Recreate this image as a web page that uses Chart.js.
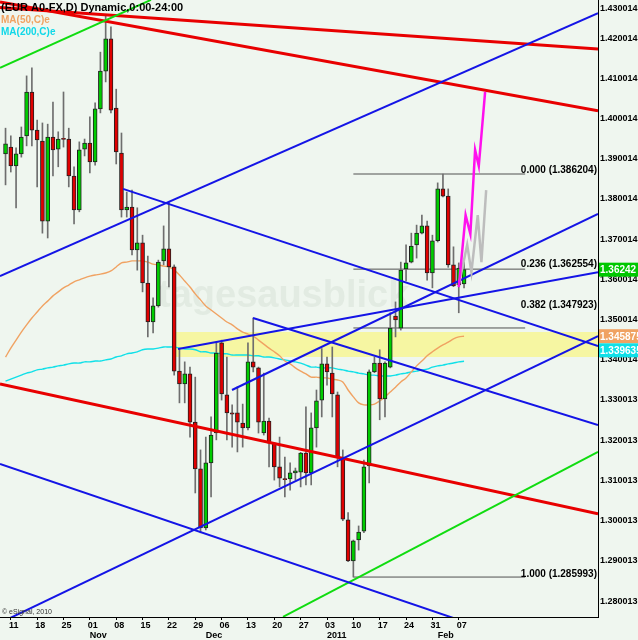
<!DOCTYPE html>
<html>
<head>
<meta charset="utf-8">
<script src="https://cdn.jsdelivr.net/npm/chart.js@4.4.0/dist/chart.umd.min.js"></script>
<style>
  html, body { margin: 0; padding: 0; background: #eff6ef; }
  canvas { display: block; }
</style>
</head>
<body>
<canvas id="chart" width="638" height="640"></canvas>
<script>
// EUR/USD daily candles, trading-day index (0 = Mon 11 Oct 2010), first bar is Fri 8 Oct
const firstDay = -1;
const opens = [
  1.3912, 1.3929, 1.3882, 1.3912, 1.3957, 1.4066, 1.3971, 1.3944, 1.3745, 1.3954,
  1.3924, 1.3949, 1.3949, 1.3857, 1.3773, 1.3924, 1.3939, 1.3892, 1.4024, 1.4118,
  1.4198, 1.4026, 1.3914, 1.3773, 1.3780, 1.3673, 1.3691, 1.3591, 1.3494, 1.3534,
  1.3646, 1.3676, 1.3631, 1.3372, 1.3340, 1.3365, 1.3245, 1.3129, 1.2982, 1.3144,
  1.3218, 1.3442, 1.3313, 1.3268, 1.3268, 1.3243, 1.3231, 1.3395, 1.3380, 1.3218,
  1.3248, 1.3193, 1.3134, 1.3104, 1.3104, 1.3119, 1.3121, 1.3168, 1.3119, 1.3231,
  1.3300, 1.3390, 1.3367, 1.3313, 1.3158, 1.3002, 1.2900, 1.2952, 1.2974, 1.3136,
  1.3370, 1.3392, 1.3303, 1.3382, 1.3509, 1.3479, 1.3626, 1.3643, 1.3686, 1.3715,
  1.3733, 1.3616, 1.3696, 1.3825, 1.3807, 1.3636, 1.3586, 1.3589
];
const highs = [
  1.3976, 1.3957, 1.3927, 1.3979, 1.4106, 1.4126, 1.3996, 1.3989, 1.3986, 1.4041,
  1.3967, 1.4066, 1.3976, 1.3880, 1.3942, 1.3949, 1.4004, 1.4039, 1.4165, 1.4257,
  1.4228, 1.4073, 1.3964, 1.3817, 1.3822, 1.3778, 1.3710, 1.3658, 1.3554, 1.3648,
  1.3733, 1.3792, 1.3636, 1.3427, 1.3395, 1.3382, 1.3357, 1.3176, 1.3208, 1.3258,
  1.3442, 1.3449, 1.3407, 1.3288, 1.3333, 1.3290, 1.3442, 1.3504, 1.3382, 1.3367,
  1.3255, 1.3193, 1.3208, 1.3158, 1.3144, 1.3131, 1.3170, 1.3283, 1.3268, 1.3325,
  1.3428, 1.3407, 1.3432, 1.3320, 1.3176, 1.3020, 1.2952, 1.2987, 1.3151, 1.3375,
  1.3407, 1.3425, 1.3395, 1.3517, 1.3544, 1.3643, 1.3686, 1.3715, 1.3735, 1.3760,
  1.3745, 1.3710, 1.3840, 1.3862, 1.3825, 1.3681, 1.3641, 1.3643
];
const lows = [
  1.3835, 1.3867, 1.3778, 1.3904, 1.3932, 1.3932, 1.3830, 1.3715, 1.3703, 1.3857,
  1.3880, 1.3929, 1.3830, 1.3738, 1.3768, 1.3907, 1.3865, 1.3884, 1.4014, 1.4091,
  1.4014, 1.3887, 1.3755, 1.3755, 1.3661, 1.3623, 1.3569, 1.3457, 1.3467, 1.3531,
  1.3636, 1.3581, 1.3362, 1.3293, 1.3293, 1.3208, 1.3069, 1.2970, 1.2977, 1.3059,
  1.3201, 1.3300, 1.3201, 1.3183, 1.3171, 1.3183, 1.3226, 1.3370, 1.3218, 1.3213,
  1.3134, 1.3101, 1.3084, 1.3059, 1.3076, 1.3101, 1.3084, 1.3089, 1.3089, 1.3183,
  1.3258, 1.3337, 1.3258, 1.3134, 1.3000, 1.2898, 1.2860, 1.2927, 1.2970, 1.3094,
  1.3368, 1.3251, 1.3258, 1.3380, 1.3457, 1.3474, 1.3596, 1.3641, 1.3653, 1.3713,
  1.3598, 1.3579, 1.3693, 1.3805, 1.3630, 1.3582, 1.3517, 1.3579
];
const closes = [
  1.3937, 1.3882, 1.3912, 1.3954, 1.4066, 1.3971, 1.3947, 1.3745, 1.3954, 1.3922,
  1.3949, 1.3948, 1.3857, 1.3773, 1.3922, 1.3939, 1.3892, 1.4024, 1.4118, 1.4198,
  1.4021, 1.3917, 1.3773, 1.3780, 1.3673, 1.3691, 1.3591, 1.3494, 1.3534, 1.3643,
  1.3676, 1.3631, 1.3372, 1.3340, 1.3365, 1.3245, 1.3129, 1.2982, 1.3144, 1.3213,
  1.3417, 1.3315, 1.3268, 1.3265, 1.3245, 1.3231, 1.3395, 1.3382, 1.3245, 1.3248,
  1.3193, 1.3134, 1.3106, 1.3102, 1.3119, 1.3124, 1.3168, 1.3119, 1.3231, 1.3298,
  1.3390, 1.3370, 1.3315, 1.3158, 1.3004, 1.2900, 1.2950, 1.2972, 1.3134, 1.3370,
  1.3392, 1.3303, 1.3392, 1.3479, 1.3499, 1.3623, 1.3641, 1.3683, 1.3715, 1.3733,
  1.3616, 1.3696, 1.3825, 1.3807, 1.3636, 1.3584, 1.3628, 1.36242
];
const ma50 = [
  1.3407, 1.3429, 1.3449, 1.3469, 1.3487, 1.3504, 1.3519, 1.3534, 1.3546, 1.3559,
  1.3569, 1.3579, 1.3586, 1.3594, 1.3599, 1.3604, 1.3608, 1.3611, 1.3613, 1.3616,
  1.3621, 1.3631, 1.3641, 1.3643, 1.3646, 1.3646, 1.3646, 1.3643, 1.3638, 1.3636,
  1.3633, 1.3631, 1.3623, 1.3611, 1.3596, 1.3581, 1.3564, 1.3549, 1.3534, 1.3524,
  1.3514, 1.3504, 1.3494, 1.3487, 1.3477, 1.3469, 1.3464, 1.3459, 1.3449, 1.3439,
  1.3429, 1.3420, 1.3410, 1.3397, 1.3390, 1.3380, 1.3372, 1.3365, 1.3357, 1.3357,
  1.3355, 1.3355, 1.3352, 1.3350, 1.3345, 1.3325, 1.3308, 1.3293, 1.3288, 1.3288,
  1.3290, 1.3298, 1.3308, 1.3320, 1.3332, 1.3345, 1.3355, 1.3370, 1.3385, 1.3397,
  1.3410, 1.3420, 1.3429, 1.3437, 1.3444, 1.3452, 1.3457, 1.345875
];
const ma200 = [
  1.3347, 1.3352, 1.3357, 1.3362, 1.3367, 1.3370, 1.3375, 1.3377, 1.3380, 1.3382,
  1.3385, 1.3387, 1.3390, 1.3392, 1.3392, 1.3395, 1.3395, 1.3397, 1.3397, 1.3400,
  1.3402, 1.3407, 1.3410, 1.3415, 1.3417, 1.3420, 1.3425, 1.3427, 1.3427, 1.3429,
  1.3432, 1.3432, 1.3432, 1.3429, 1.3427, 1.3427, 1.3425, 1.3420, 1.3420, 1.3417,
  1.3417, 1.3415, 1.3415, 1.3412, 1.3412, 1.3412, 1.3412, 1.3410, 1.3410, 1.3407,
  1.3407, 1.3405, 1.3402, 1.3400, 1.3397, 1.3395, 1.3392, 1.3387, 1.3382, 1.3382,
  1.3380, 1.3380, 1.3380, 1.3377, 1.3375, 1.3372, 1.3370, 1.3367, 1.3365, 1.3362,
  1.3362, 1.3360, 1.3360, 1.3360, 1.3362, 1.3365, 1.3367, 1.3370, 1.3372, 1.3375,
  1.3377, 1.3382, 1.3385, 1.3387, 1.3390, 1.3392, 1.3395, 1.339635
];

// axis ticks
const weekTicks = [0, 5, 10, 15, 20, 25, 30, 35, 40, 45, 50, 55, 60, 65, 70, 75, 80, 85];
const weekLabels = ['11', '18', '25', '01', '08', '15', '22', '29', '06', '13', '20', '27', '03', '10', '17', '24', '31', '07'];
const monthTicks = [15, 37, 60, 81];
const monthLabels = ['Nov', 'Dec', '2011', 'Feb'];
const priceTicks = [1.280013, 1.290013, 1.300013, 1.310013, 1.320013, 1.330013, 1.340014,
  1.350014, 1.360014, 1.370014, 1.380014, 1.390014, 1.400014, 1.410014, 1.420014, 1.430014];

// drawn trend lines, each as [[day, price], [day, price]]
const redLines = [
  [[-2.05, 1.4290], [111.42, 1.4019]],
  [[-2.05, 1.4276], [111.42, 1.4173]],
  [[-2.05, 1.3340], [111.42, 1.3017]]
];
const blueLines = [
  [[-2.05, 1.3608], [111.42, 1.4262]],
  [[-2.05, 1.2746], [111.42, 1.3459]],
  [[31.73, 1.3427], [111.42, 1.3618]],
  [[21.3, 1.3825], [111.42, 1.3434]],
  [[45.96, 1.3504], [111.42, 1.3238]],
  [[-2.05, 1.3141], [111.42, 1.2636]],
  [[41.97, 1.3325], [111.42, 1.3763]]
];
const greenLines = [
  [[-2.05, 1.4126], [26.6, 1.4295]],
  [[51.65, 1.2761], [111.42, 1.3171]]
];
const fibRatios = ['0.000', '0.236', '0.382', '1.000'];
const fibLevels = [1.386204, 1.362554, 1.347923, 1.285993];
const fibFrom = 65, fibTo = 97.6;
const zoneLow = 1.3407, zoneHigh = 1.3469, zoneFrom = 30.8;
const projPink = [[85, 1.3581], [86.3, 1.3760], [87.2, 1.3713], [88.1, 1.3922], [88.8, 1.3882], [90, 1.4066]];
const projGray = [[85, 1.3586], [86.6, 1.3686], [87.4, 1.3618], [88.6, 1.3760], [89.3, 1.3643], [90.2, 1.3822]];

const X_MIN = -2.05, X_MAX = 111.42;
const Y_MIN = 1.27606, Y_MAX = 1.42947;
const FONT = 'Liberation Sans, Arial, sans-serif';
const UP = '#00cc00', DOWN = '#e00000';

const days = opens.map((_, k) => k + firstDay);

const line = (pts, color, width, order) => ({
  type: 'line',
  data: pts.map(([x, y]) => ({ x, y })),
  borderColor: color,
  borderWidth: width,
  pointRadius: 0,
  fill: false,
  order
});

const datasets = [
  // highlighted zone
  { type: 'line', data: [{ x: zoneFrom, y: zoneLow }, { x: X_MAX + 1, y: zoneLow }],
    borderWidth: 0, pointRadius: 0, fill: false, order: 50 },
  { type: 'line', data: [{ x: zoneFrom, y: zoneHigh }, { x: X_MAX + 1, y: zoneHigh }],
    borderWidth: 0, pointRadius: 0, fill: '-1', backgroundColor: '#f6f6a2', order: 49 },
  // wicks and bodies
  { type: 'bar', data: days.map((d, k) => ({ x: d, y: [lows[k], highs[k]] })),
    backgroundColor: '#6e6e6e', barThickness: 1, grouped: false, order: 20 },
  { type: 'bar', data: days.map((d, k) => ({ x: d, y: [opens[k], closes[k]] })),
    backgroundColor: days.map((d, k) => closes[k] >= opens[k] ? UP : DOWN),
    borderColor: '#202020', borderWidth: 1, borderSkipped: false,
    barThickness: 4, minBarLength: 1, grouped: false, order: 19 },
  // moving averages
  { type: 'line', data: days.map((d, k) => ({ x: d, y: ma50[k] })), borderColor: '#f0a262',
    borderWidth: 1.4, pointRadius: 0, fill: false, tension: 0.3, order: 30 },
  { type: 'line', data: days.map((d, k) => ({ x: d, y: ma200[k] })), borderColor: '#10e0e8',
    borderWidth: 1.4, pointRadius: 0, fill: false, tension: 0.3, order: 30 },
  // fibonacci levels
  ...fibLevels.map(v => line([[fibFrom, v], [fibTo, v]], '#505050', 1, 25)),
  // trend lines
  ...redLines.map(p => line(p, '#e80000', 3, 10)),
  ...blueLines.map(p => line(p, '#1414e6', 2, 9)),
  ...greenLines.map(p => line(p, '#10dc10', 2, 9)),
  line(projGray, '#bdbdbd', 2.5, 8),
  line(projPink, '#ff10ee', 2.5, 7)
];

const paint = {
  id: 'paint',
  beforeDraw(chart) {
    const c = chart.ctx;
    c.save();
    c.fillStyle = '#eff6ef';
    c.fillRect(0, 0, chart.width, chart.height);
    c.restore();
  },
  beforeDatasetsDraw(chart) {
    const c = chart.ctx;
    c.save();
    c.font = 'bold 38px ' + FONT;
    c.fillStyle = '#e2ebe2';
    c.textBaseline = 'alphabetic';
    c.fillText('tagesausblick', 158, 307);
    c.restore();
  },
  afterDatasetsDraw(chart) {
    const c = chart.ctx, y = chart.scales.y;
    c.save();
    c.textBaseline = 'middle';
    c.font = 'bold 11px ' + FONT;
    c.fillStyle = '#000';
    c.fillText('(EUR A0-FX,D) Dynamic,0:00-24:00', 1, 8);
    c.font = 'bold 10px ' + FONT;
    c.fillStyle = '#f0a262';
    c.fillText('MA(50,C)e', 1, 20);
    c.fillStyle = '#10d8e8';
    c.fillText('MA(200,C)e', 1, 32);

    // fib labels
    const lift = [4, 5, 23, 3];
    c.font = 'bold 10px ' + FONT;
    c.fillStyle = '#000';
    c.textAlign = 'right';
    fibLevels.forEach((v, k) => {
      c.fillText(fibRatios[k] + ' (' + v.toFixed(6) + ')', chart.chartArea.right - 1, y.getPixelForValue(v) - lift[k]);
    });

    c.textAlign = 'left';
    c.font = '7px ' + FONT;
    c.fillStyle = '#333';
    c.fillText('\u00a9 eSignal, 2010', 2, 612);
    c.restore();
  },
  afterDraw(chart) {
    const c = chart.ctx, y = chart.scales.y, left = chart.chartArea.right + 1;
    const tags = [
      [closes[closes.length - 1], '#00c800', closes[closes.length - 1].toFixed(5), 0],
      [ma50[ma50.length - 1], '#f0a262', ma50[ma50.length - 1].toFixed(6), 0],
      [ma200[ma200.length - 1], '#10e0e8', ma200[ma200.length - 1].toFixed(6), -11]
    ];
    c.save();
    c.font = 'bold 10px ' + FONT;
    c.textBaseline = 'middle';
    tags.forEach(([v, col, txt, dy]) => {
      const py = y.getPixelForValue(v) + dy;
      c.fillStyle = col;
      c.fillRect(left, py - 7, chart.width - left, 14);
      c.fillStyle = '#fff';
      c.fillText(txt, left + 1, py + 1);
    });
    c.restore();
  }
};

const noPad = s => { s.paddingTop = 0; s.paddingBottom = 0; s.paddingLeft = 0; s.paddingRight = 0; };

new Chart(document.getElementById('chart'), {
  type: 'bar',
  data: { datasets },
  options: {
    responsive: false,
    animation: false,
    devicePixelRatio: 1,
    layout: { padding: 0 },
    plugins: { legend: { display: false }, tooltip: { enabled: false } },
    scales: {
      x: {
        type: 'linear', min: X_MIN, max: X_MAX, position: 'bottom', weight: 0, offset: false,
        grid: { display: true, offset: false, drawOnChartArea: false, drawTicks: true, tickLength: 3, color: '#000' },
        border: { display: true, color: '#000', width: 1 },
        afterBuildTicks: s => { s.ticks = weekTicks.map(v => ({ value: v })); },
        afterFit: s => { s.height = 13; noPad(s); },
        ticks: {
          autoSkip: false, maxRotation: 0, padding: 0, labelOffset: 3,
          color: '#000', font: { family: FONT, size: 9, weight: 'bold' },
          callback: (v, k) => weekLabels[k]
        }
      },
      x2: {
        type: 'linear', min: X_MIN, max: X_MAX, position: 'bottom', weight: 1, offset: false,
        grid: { display: false, offset: false, drawTicks: false }, border: { display: false },
        afterBuildTicks: s => { s.ticks = monthTicks.map(v => ({ value: v })); },
        afterFit: s => { s.height = 10; noPad(s); },
        ticks: {
          autoSkip: false, maxRotation: 0, padding: 0, align: 'start',
          color: '#000', font: { family: FONT, size: 9, weight: 'bold' },
          callback: (v, k) => monthLabels[k]
        }
      },
      y: {
        type: 'linear', min: Y_MIN, max: Y_MAX, position: 'right',
        grid: { display: false, drawTicks: false },
        border: { display: true, color: '#000', width: 1 },
        afterBuildTicks: s => { s.ticks = priceTicks.map(v => ({ value: Math.min(v, s.max - 0.0022) })); },
        afterFit: s => { s.width = 40; noPad(s); },
        ticks: {
          autoSkip: false, padding: 2,
          color: '#000', font: { family: FONT, size: 9, weight: 'bold' },
          callback: (v, k) => priceTicks[k].toFixed(6)
        }
      }
    }
  },
  plugins: [paint]
});
</script>
</body>
</html>
